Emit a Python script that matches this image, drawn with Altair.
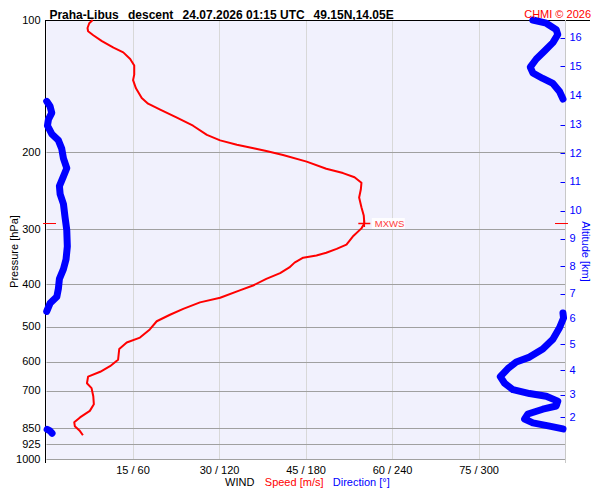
import altair as alt
import pandas as pd

# ---------------- data ----------------
# wind speed profile (m/s) vs pressure (hPa)
red_p = [100, 101.7, 104.3, 106.1, 108.3, 111.7, 115.6, 118.5, 122.7, 127.0,
         133.2, 137.1, 143.1, 150.6, 155.1, 160.0, 166.9, 174.1, 182.7, 188.0,
         192.3, 196.3, 198.9, 203.0, 210.2, 218.2, 223.2, 228.2, 234.9, 243.0,
         253.7, 267.1, 278.7, 290.8, 298.3, 311.4, 324.9, 332.2, 339.0, 343.8,
         347.9, 357.0, 366.2, 377.1, 388.9, 402.5, 412.9, 429.3, 439.8, 455.1,
         469.3, 485.5, 506.9, 529.0, 542.7, 561.6, 594.2, 614.7, 632.9, 649.3,
         672.0, 689.5, 719.4, 750.7, 776.9, 804.0, 824.9, 841.9, 860.7, 883.0]
red_s = [8.1, 7.5, 7.2, 7.3, 8.2, 9.7, 11.7, 13.4, 14.6, 15.3,
         15.3, 15.1, 15.6, 16.6, 17.7, 19.8, 22.7, 25.5, 27.9, 30.2,
         33.1, 36.2, 38.2, 41.1, 45.2, 48.6, 51.5, 53.5, 54.7, 54.6,
         54.3, 54.7, 55.1, 55.2, 54.7, 53.2, 52.1, 50.4, 48.6, 46.9,
         44.6, 43.1, 42.2, 40.6, 38.2, 35.9, 33.6, 30.2, 26.7, 23.8,
         21.5, 19.2, 18.0, 16.3, 14.0, 12.7, 12.5, 11.1, 9.4, 7.3,
         7.1, 7.9, 8.2, 8.3, 7.6, 5.9, 4.9, 5.0, 5.8, 6.4]

# wind direction (deg) vs pressure, split where it wraps 360 -> 0
dirA_p = [100, 101.7, 105.2, 107.9, 112.6, 117.6, 122.7, 128.0, 132.0, 135.9, 139.5, 145.5, 151.4]
dirA_d = [337.7, 347.0, 353.9, 355.0, 351.6, 345.8, 340.1, 335.9, 337.7, 344.6, 351.6, 356.2, 358.6]
dirB_p = [153.2, 157.2, 162.7, 168.4, 174.1, 181.8, 188.0, 196.3, 206.7, 217.6, 227.0, 238.9,
          249.3, 262.5, 281.1, 300.9, 327.8, 350.9, 369.4, 388.9, 409.3, 427.1, 442.0, 461.2]
dirB_d = [0.5, 2.8, 4.0, 1.7, 1.0, 4.0, 8.6, 10.9, 12.1, 14.4, 12.1, 9.3,
          9.8, 12.1, 13.2, 14.4, 14.8, 13.9, 12.1, 9.3, 8.6, 7.5, 2.8, 0.5]
dirC_p = [465.2, 477.3, 502.4, 533.4, 561.6, 586.0, 601.2, 622.3, 649.3, 672.0, 695.1,
          709.5, 719.4, 738.1, 757.3, 770.2, 789.9, 810.7, 827.4, 841.9, 854.1]
dirC_d = [358.6, 359.0, 356.2, 351.6, 344.6, 335.4, 326.2, 320.4, 315.1, 318.1, 323.9,
          335.4, 347.0, 355.0, 353.9, 344.6, 334.3, 332.0, 337.7, 349.3, 358.6]
dirD_p = [856.3, 862.9, 874.0]
dirD_d = [0.8, 2.8, 4.2]

# maximum wind
mxws_s = [55.2]
mxws_p = [290.8]
mxws_label = ["MXWS"]

# axes
p_ticks = [100, 200, 300, 400, 500, 600, 700, 850, 925, 1000]
spd_ticks = [15, 30, 45, 60, 75]
alt_km = [2, 3, 4, 5, 6, 7, 8, 9, 10, 11, 12, 13, 14, 15, 16]
alt_p = [803.9, 713.0, 627.2, 548.2, 479.8, 420.1, 364.2, 315.1, 272.0, 233.7,
         201.4, 173.3, 148.5, 127.4, 109.8]

title_parts = ["Praha-Libus", "descent", "24.07.2026 01:15 UTC", "49.15N,14.05E"]
credit = "CHMI \u00a9 2026"

# ---------------- build ----------------
FONT = "Liberation Sans"
W, H = 519, 439
RED = "#ff0000"
BLUE = "#0000ff"

red_df = pd.DataFrame({"p": red_p, "s": red_s})
segs = []
for name, pp, dd in [("A", dirA_p, dirA_d), ("B", dirB_p, dirB_d),
                     ("C", dirC_p, dirC_d), ("D", dirD_p, dirD_d)]:
    segs.append(pd.DataFrame({"p": pp, "d": dd, "seg": name}))
blue_df = pd.concat(segs, ignore_index=True)
mx_df = pd.DataFrame({"p": mxws_p, "s": mxws_s, "label": mxws_label})
one = pd.DataFrame({"a": [0]})

xscale = alt.Scale(domain=[0, 90], nice=False, zero=False)
yscale = alt.Scale(type="log", domain=[100, 1000], reverse=True, nice=False)

alt_expr = "[" + ",".join("'%d'" % k for k in alt_km) + "][indexof([" + \
    ",".join(str(v) for v in alt_p) + "], datum.value)]"

x_axis = alt.Axis(values=spd_ticks, labelExpr="datum.value + ' / ' + datum.value*4",
                  grid=True, gridColor="#d8d8d8", domain=False, ticks=False,
                  labelPadding=14.5, labelBaseline="alphabetic", labelFontSize=11,
                  labelColor="black", labelFont=FONT, labelFlush=False, title=None)
left_axis = alt.Axis(orient="left", values=p_ticks, labelExpr="format(datum.value, 'd')",
                     grid=True, gridColor="#a0a0a0", domain=False, ticks=False,
                     labelPadding=6, labelFontSize=11, labelColor="black", labelFont=FONT,
                     labelOverlap=False, title=None)
right_axis = alt.Axis(orient="right", values=alt_p, labelExpr=alt_expr,
                      grid=False, domain=False, ticks=True, tickSize=5, tickColor=BLUE,
                      tickWidth=1, offset=-5, labelPadding=4, labelFontSize=11,
                      labelColor=BLUE, labelFont=FONT, labelOverlap=False, title=None)

X = alt.X("s:Q", scale=xscale, axis=x_axis)
ynoax = alt.Y("p:Q", scale=yscale, axis=None)

blue = alt.Chart(blue_df).mark_line(color=BLUE, strokeWidth=7, strokeCap="round",
                                    strokeJoin="round").transform_calculate(
    s="datum.d / 4"
).encode(
    x=X,
    y=alt.Y("p:Q", scale=yscale, axis=right_axis),
    detail="seg:N",
    order=alt.Order("p:Q"),
)

red = alt.Chart(red_df).mark_line(color=RED, strokeWidth=2, strokeJoin="round").encode(
    x=X,
    y=alt.Y("p:Q", scale=yscale, axis=left_axis),
    order=alt.Order("p:Q"),
)

top_line = alt.Chart(one).mark_rule(color="black", strokeWidth=1).encode(
    x=alt.value(-1), x2=alt.value(544), y=alt.value(0.5))
left_line = alt.Chart(one).mark_rule(color="black", strokeWidth=1).encode(
    x=alt.value(-0.5), y=alt.value(0), y2=alt.value(443))
right_line = alt.Chart(one).mark_rule(color="#c8c8c8", strokeWidth=1).encode(
    x=alt.value(519.5), y=alt.value(0), y2=alt.value(443))

mx_left = alt.Chart(mx_df).mark_rule(color=RED, strokeWidth=1).encode(
    x=alt.value(-3), x2=alt.value(10), y=ynoax)
mx_right = alt.Chart(mx_df).mark_rule(color=RED, strokeWidth=1).encode(
    x=alt.value(509), x2=alt.value(522), y=ynoax)
mx_box = alt.Chart(mx_df).mark_point(shape="M-1,-0.333H1V0.333H-1Z", size=1089, filled=True,
                                     fill="white", opacity=0.85, strokeWidth=0,
                                     xOffset=24).encode(x=X, y=ynoax)
mx_cross = alt.Chart(mx_df).mark_point(shape="M-1,0H1M0,-0.58V0.58", size=144, filled=False,
                                       color=RED, strokeWidth=1.5, opacity=1).encode(
    x=X, y=ynoax)
mx_text = alt.Chart(mx_df).mark_text(align="left", baseline="middle", dx=10.5, fontSize=9.5,
                                     font=FONT, color="#ff3c3c").encode(
    x=X, y=ynoax, text="label:N")


def txt(s, x, y, size=11, color="black", weight="normal", align="left", angle=0,
        baseline="alphabetic"):
    return alt.Chart(one).mark_text(text=s, font=FONT, fontSize=size, color=color,
                                    fontWeight=weight, align=align, angle=angle,
                                    baseline=baseline).encode(
        x=alt.value(x), y=alt.value(y))


title_x = [3.4, 82.0, 136.6, 267.6]
texts = [txt(t, tx, -1, size=12, weight="bold") for t, tx in zip(title_parts, title_x)]
texts.append(txt(credit, 545, -1.8, size=11, color=RED, align="right"))
texts.append(txt("Pressure [hPa]", -27.9, 231.5, angle=270, align="center"))
texts.append(txt("Altitude [km]", 536, 231.5, color=BLUE, angle=90, align="center"))
texts.append(txt("WIND", 179, 465.5))
texts.append(txt("Speed [m/s]", 218.8, 465.5, color=RED))
texts.append(txt("Direction [\u00b0]", 286.8, 465.5, color=BLUE))

chart = alt.layer(
    top_line, left_line, right_line, red, blue, mx_left, mx_right,
    mx_box, mx_cross, mx_text, *texts
).resolve_axis(y="independent").properties(
    width=W, height=H,
    autosize=alt.AutoSizeParams(type="none"),
    padding={"left": 38, "top": 12, "right": 27, "bottom": 29},
    background="white",
).configure_view(fill="#f1f1fd", stroke="transparent")

chart.save("out.html", embed_options={"renderer": "svg", "actions": False})
